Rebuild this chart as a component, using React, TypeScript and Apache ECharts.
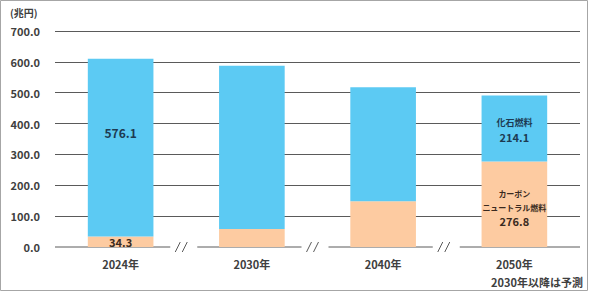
import React, { useEffect, useRef } from "react";
import * as echarts from "echarts";

const categories = ["2024年", "2030年", "2040年", "2050年"];
const carbonNeutral = [34.3, 58, 148, 276.8];
const fossil = [576.1, 529, 370, 214.1];
const yMin = 0;
const yMax = 700;
const yInterval = 100;
const unitLabel = "(兆円)";
const noteLabel = "2030年以降は予測";
const fossilName = "化石燃料";
const carbonNameLines = ["カーボン", "ニュートラル燃料"];

const FONT = "'Noto Sans CJK JP', 'Noto Sans', sans-serif";
const BLUE = "#5ccaf3";
const ORANGE = "#fdcba1";
const LINE = "#5a5a5a";
const TEXT = "#404040";

export default function App() {
  const ref = useRef<HTMLDivElement>(null);
  useEffect(() => {
    if (!ref.current) return;
    const chart = echarts.init(ref.current, undefined, { renderer: "svg" });
    const last = categories.length - 1;

    const carbonData = carbonNeutral.map((v, i) => {
      if (i === 0)
        return {
          value: v,
          label: { show: true, formatter: "{n|" + v.toFixed(1) + "}" },
        };
      if (i === last)
        return {
          value: v,
          label: {
            show: true,
            offset: [0, 3],
            formatter:
              carbonNameLines.map((s) => "{s|" + s + "}").join("\n") + "\n{n|" + v.toFixed(1) + "}",
          },
        };
      return { value: v };
    });
    const fossilData = fossil.map((v, i) => {
      if (i === 0)
        return {
          value: v,
          label: { show: true, offset: [0, -15], formatter: "{b|" + v.toFixed(1) + "}" },
        };
      if (i === last)
        return {
          value: v,
          label: {
            show: true,
            offset: [0, 1],
            formatter: "{s|" + fossilName + "}\n{n|" + v.toFixed(1) + "}",
          },
        };
      return { value: v };
    });

    chart.setOption({
      animation: false,
      textStyle: { fontFamily: FONT },
      grid: { left: 55, right: 10, top: 31, bottom: 45, containLabel: false },
      xAxis: {
        type: "category",
        data: categories,
        axisLine: { show: false },
        axisTick: { show: false },
        axisLabel: { margin: 11, fontSize: 11, fontWeight: "bold", color: TEXT, fontFamily: FONT },
      },
      yAxis: {
        type: "value",
        min: yMin,
        max: yMax,
        interval: yInterval,
        axisLine: { show: false },
        axisTick: { show: false },
        axisLabel: {
          margin: 15,
          fontSize: 11,
          fontWeight: "bold",
          color: TEXT,
          fontFamily: FONT,
          formatter: (v: number) => v.toFixed(1),
        },
        splitLine: { show: true, showMinLine: false, lineStyle: { color: LINE, width: 1 } },
      },
      series: [
        {
          type: "bar",
          name: "carbon",
          stack: "total",
          barWidth: "50%",
          itemStyle: { color: ORANGE },
          data: carbonData,
          label: {
            show: false,
            position: "inside",
            fontFamily: FONT,
            rich: {
              s: { fontSize: 8, fontWeight: "bold", color: "#3a2a20", lineHeight: 14, fontFamily: FONT },
              n: { fontSize: 11, fontWeight: "bold", color: "#3a2a20", lineHeight: 14, fontFamily: FONT },
            },
          },
        },
        {
          type: "bar",
          name: "fossil",
          stack: "total",
          barWidth: "50%",
          itemStyle: { color: BLUE },
          data: fossilData,
          label: {
            show: false,
            position: "inside",
            fontFamily: FONT,
            rich: {
              s: { fontSize: 9, fontWeight: "bold", color: "#1d3a52", lineHeight: 14, fontFamily: FONT },
              n: { fontSize: 11, fontWeight: "bold", color: "#1d3a52", lineHeight: 14, fontFamily: FONT },
              b: { fontSize: 12, fontWeight: "bold", color: "#1d3a52", fontFamily: FONT },
            },
          },
        },
      ],
    });

    // axis baseline with break marks, positions derived from the chart's scales
    const cx = categories.map((_, i) => chart.convertToPixel({ xAxisIndex: 0 }, i) as number);
    const band = cx.length > 1 ? cx[1] - cx[0] : 100;
    const y0 = chart.convertToPixel({ yAxisIndex: 0 }, 0) as number;
    const left = cx[0] - band / 2;
    const right = cx[last] + band / 2;
    const bounds = cx.slice(0, -1).map((c, i) => (c + cx[i + 1]) / 2);
    const starts = [left, ...bounds.map((b) => b + 11)];
    const ends = [...bounds.map((b) => b - 16), right];
    const graphics: any[] = [];
    starts.forEach((s, i) => {
      graphics.push({
        type: "line",
        shape: { x1: s, y1: y0, x2: ends[i], y2: y0 },
        style: { stroke: LINE, lineWidth: 1 },
      });
    });
    bounds.forEach((b) => {
      graphics.push({
        type: "line",
        shape: { x1: b - 11, y1: y0 + 5, x2: b - 6, y2: y0 - 5 },
        style: { stroke: LINE, lineWidth: 1 },
      });
      graphics.push({
        type: "line",
        shape: { x1: b - 4, y1: y0 + 5, x2: b + 1, y2: y0 - 5 },
        style: { stroke: LINE, lineWidth: 1 },
      });
    });
    graphics.push({
      type: "rect",
      shape: { x: 0.5, y: 0.5, width: 587, height: 290 },
      style: { fill: "none", stroke: "#a6a6a6", lineWidth: 1 },
      silent: true,
    });
    graphics.push({
      type: "text",
      x: 10,
      y: 12,
      style: {
        text: unitLabel,
        fontSize: 10,
        fontWeight: "bold",
        fill: TEXT,
        fontFamily: FONT,
        verticalAlign: "middle",
      },
    });
    graphics.push({
      type: "text",
      x: 583,
      y: 282,
      style: {
        text: noteLabel,
        fontSize: 11,
        fontWeight: "bold",
        fill: TEXT,
        fontFamily: FONT,
        align: "right",
        verticalAlign: "middle",
      },
    });
    chart.setOption({ graphic: graphics });

    return () => chart.dispose();
  }, []);
  return (
    <div
      ref={ref}
      style={{ position: "fixed", left: 0, top: 0, width: 590, height: 292, background: "#fff" }}
    />
  );
}
